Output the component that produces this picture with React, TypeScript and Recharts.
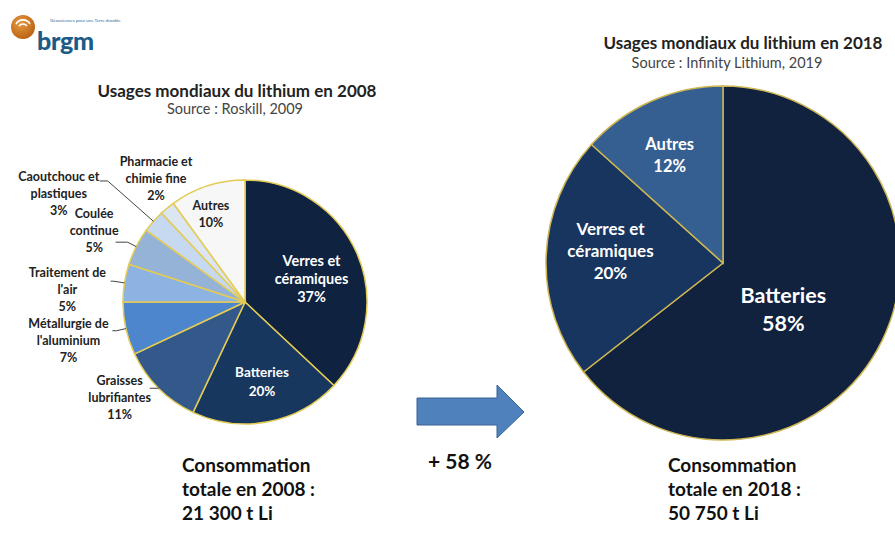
import React from 'react';
import { PieChart, Pie, Cell } from 'recharts';

// Usages mondiaux du lithium, 2008 (Roskill) et 2018 (Infinity Lithium)
const usages2008 = [
  'Verres et\ncéramiques',
  'Batteries',
  'Graisses\nlubrifiantes',
  'Métallurgie de\nl\'aluminium',
  'Traitement de\nl\'air',
  'Coulée\ncontinue',
  'Caoutchouc et\nplastiques',
  'Pharmacie et\nchimie fine',
  'Autres',
];
const parts2008 = [37, 20, 11, 7, 5, 5, 3, 2, 10];

const usages2018 = ['Batteries', 'Verres et\ncéramiques', 'Autres'];
const parts2018 = [58, 20, 12];

const colors2008 = [
  '#0f2341', '#17375e', '#33598a', '#4d86cc', '#8db3e2',
  '#95b3d7', '#c6d9f1', '#dce6f2', '#f7f7f7',
];
const colors2018 = ['#10223e', '#17355e', '#355f91'];

type Place = {
  r: number; da: number; size: number; lh: number; fill: string;
  elbow?: number; tail?: number;
};

const place2008: Place[] = [
  { r: 0.58, da: -3.4, size: 14.5, lh: 18, fill: '#fff' },
  { r: 0.67, da: 1.2, size: 13.5, lh: 19, fill: '#fff' },
  { r: 1.29, da: -7.8, size: 12.5, lh: 17, fill: '#222', elbow: 1.0, tail: 9 },
  { r: 1.48, da: -0.5, size: 12.5, lh: 17, fill: '#222', elbow: 1.08, tail: 4 },
  { r: 1.46, da: 4.8, size: 12.5, lh: 17, fill: '#222', elbow: 1.09, tail: 3 },
  { r: 1.37, da: 1.5, size: 12.5, lh: 17, fill: '#222', elbow: 1.08, tail: 12 },
  { r: 1.77, da: 11, size: 12.5, lh: 17, fill: '#222', elbow: 1.5, tail: 8 },
  { r: 1.25, da: -3.9, size: 12.5, lh: 17, fill: '#222' },
  { r: 0.78, da: 3, size: 12.5, lh: 17, fill: '#222' },
];

const place2018: Place[] = [
  { r: 0.43, da: -11.5, size: 21.5, lh: 28, fill: '#fff' },
  { r: 0.64, da: -4.6, size: 17, lh: 22, fill: '#fff' },
  { r: 0.68, da: 2.3, size: 16.5, lh: 22, fill: '#fff' },
];

const data2008 = usages2008.map((name, i) => ({ name, value: parts2008[i] }));
const data2018 = usages2018.map((name, i) => ({ name, value: parts2018[i] }));

const RAD = Math.PI / 180;
const FONT = 'Lato, "Open Sans", sans-serif';

const polar = (cx: number, cy: number, r: number, angle: number) => ({
  x: cx + r * Math.cos(-angle * RAD),
  y: cy + r * Math.sin(-angle * RAD),
});

const makeLabel = (places: Place[]) => (props: any) => {
  const { cx, cy, midAngle, outerRadius, index, payload } = props;
  const p = places[index];
  const pos = polar(cx, cy, outerRadius * p.r, midAngle + p.da);
  const name: string = payload?.name ?? props.name;
  const lines = [...name.split('\n'), `${payload?.value ?? props.value}%`];
  const y0 = pos.y - ((lines.length - 1) * p.lh) / 2;
  let leader = null;
  if (p.elbow !== undefined) {
    const a = polar(cx, cy, outerRadius, midAngle);
    const b = polar(cx, cy, outerRadius * p.elbow, midAngle);
    leader = (
      <polyline
        points={`${a.x},${a.y} ${b.x},${b.y} ${b.x - (p.tail ?? 0)},${b.y}`}
        fill="none"
        stroke="#444"
        strokeWidth={1}
      />
    );
  }
  return (
    <g>
      {leader}
      <text
        x={pos.x}
        y={y0}
        textAnchor="middle"
        dominantBaseline="central"
        fill={p.fill}
        fontFamily={FONT}
        fontWeight={700}
        fontSize={p.size}
      >
        {lines.map((l, k) => (
          <tspan key={k} x={pos.x} y={y0 + k * p.lh}>
            {l}
          </tspan>
        ))}
      </text>
    </g>
  );
};

const abs = (left: number, top: number, extra: React.CSSProperties = {}): React.CSSProperties => ({
  position: 'absolute',
  left,
  top,
  fontFamily: FONT,
  whiteSpace: 'nowrap',
  ...extra,
});

const Logo = () => (
  <svg width={140} height={70} style={{ position: 'absolute', left: 0, top: 0 }}>
    <defs>
      <radialGradient id="orb" cx="40%" cy="35%" r="70%">
        <stop offset="0%" stopColor="#e69a45" />
        <stop offset="100%" stopColor="#b9600f" />
      </radialGradient>
    </defs>
    <circle cx={23} cy={27} r={12} fill="url(#orb)" />
    <path d="M16 24 a8 8 0 0 1 14 0" stroke="#fff" strokeWidth={1.6} fill="none" />
    <path d="M19 26 a5 5 0 0 1 8 0" stroke="#fff" strokeWidth={1.4} fill="none" />
    <text x={50} y={22} fontFamily={FONT} fontSize={4.5} fill="#2b6a9c">
      Géosciences pour une Terre durable
    </text>
    <text x={37} y={50} fontFamily={FONT} fontWeight={900} fontSize={25} fill="#1c5a88" letterSpacing={-0.3}>
      brgm
    </text>
  </svg>
);

const App: React.FC = () => {
  const W = 895;
  const H = 542;
  return (
    <div style={{ position: 'absolute', left: 0, top: 0, width: W, height: H, background: '#fff', overflow: 'hidden' }}>
      <Logo />

      <div style={abs(237, 90, { transform: 'translate(-50%, -50%)', fontWeight: 700, fontSize: 17, color: '#222' })}>
        Usages mondiaux du lithium en 2008
      </div>
      <div style={abs(235, 108, { transform: 'translate(-50%, -50%)', fontSize: 14.5, color: '#444' })}>
        Source : Roskill, 2009
      </div>
      <div style={abs(743, 42, { transform: 'translate(-50%, -50%)', fontWeight: 700, fontSize: 17, color: '#222' })}>
        Usages mondiaux du lithium en 2018
      </div>
      <div style={abs(727, 62, { transform: 'translate(-50%, -50%)', fontSize: 14.5, color: '#444' })}>
        Source : Infinity Lithium, 2019
      </div>

      <div style={{ position: 'absolute', left: 0, top: 0 }}>
        <PieChart width={W} height={H} margin={{ top: 0, right: 0, bottom: 0, left: 0 }}>
          <Pie
            data={data2008}
            dataKey="value"
            nameKey="name"
            cx={245}
            cy={302}
            outerRadius={122}
            startAngle={90}
            endAngle={-270}
            stroke="#e3cb55"
            strokeWidth={1.5}
            labelLine={false}
            label={makeLabel(place2008)}
            isAnimationActive={false}
          >
            {data2008.map((d, i) => (
              <Cell key={d.name} fill={colors2008[i]} />
            ))}
          </Pie>
          <Pie
            data={data2018}
            dataKey="value"
            nameKey="name"
            cx={723}
            cy={263}
            outerRadius={177}
            startAngle={90}
            endAngle={-270}
            stroke="#cdb552"
            strokeWidth={1.5}
            labelLine={false}
            label={makeLabel(place2018)}
            isAnimationActive={false}
          >
            {data2018.map((d, i) => (
              <Cell key={d.name} fill={colors2018[i]} />
            ))}
          </Pie>
        </PieChart>
      </div>

      <svg width={W} height={H} style={{ position: 'absolute', left: 0, top: 0, pointerEvents: 'none' }}>
        <polygon
          points="417,398 497,398 497,385 524,412 497,438 497,425 417,425"
          fill="#4f81bd"
          stroke="#3a6395"
          strokeWidth={1}
        />
      </svg>

      <div style={abs(182, 453, { fontWeight: 700, fontSize: 19, lineHeight: '24px', color: '#111' })}>
        Consommation
        <br />
        totale en 2008 :
        <br />
        21 300 t Li
      </div>
      <div style={abs(428, 449, { fontWeight: 700, fontSize: 21, lineHeight: '24px', color: '#111' })}>
        + 58 %
      </div>
      <div style={abs(668, 453, { fontWeight: 700, fontSize: 19, lineHeight: '24px', color: '#111' })}>
        Consommation
        <br />
        totale en 2018 :
        <br />
        50 750 t Li
      </div>
    </div>
  );
};

export default App;
